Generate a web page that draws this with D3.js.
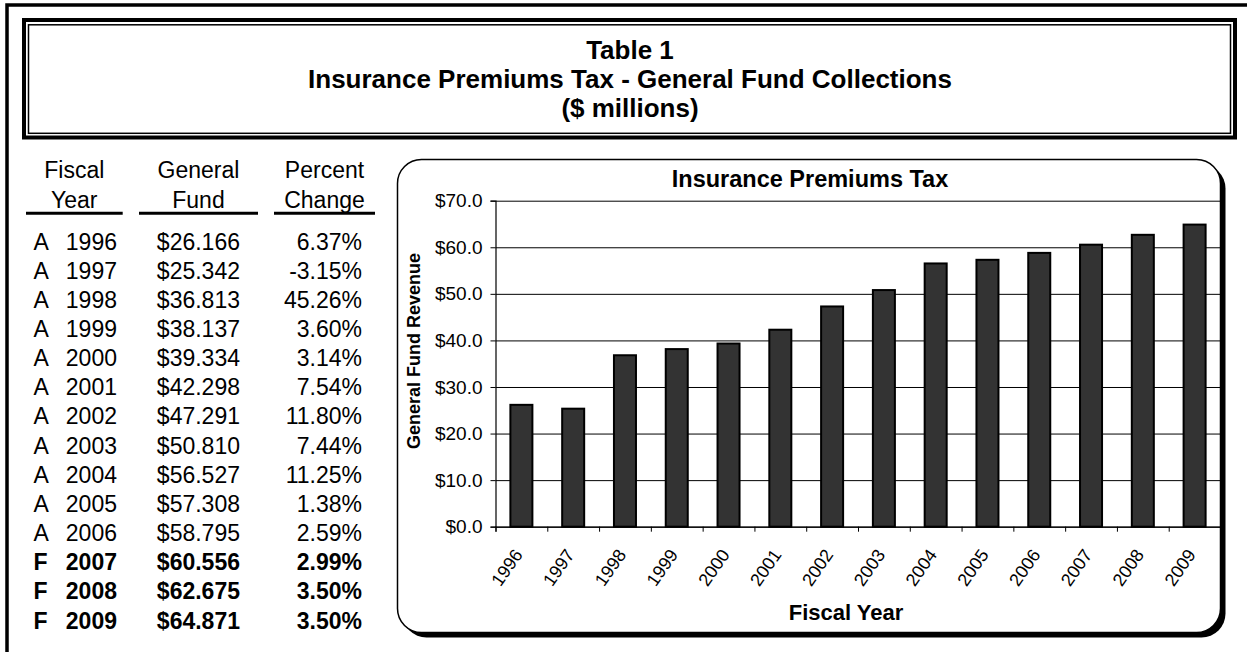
<!DOCTYPE html>
<html><head><meta charset="utf-8">
<script src="https://cdn.jsdelivr.net/npm/d3@7"></script>
<style>
html,body{margin:0;padding:0;background:#fff;}
svg{display:block;font-family:"Liberation Sans",Arial,Helvetica,sans-serif;}
</style></head>
<body>
<svg id="c" width="1247" height="652"></svg>
<script>
// ---- data ----
const years = ["1996","1997","1998","1999","2000","2001","2002","2003","2004","2005","2006","2007","2008","2009"];
const flags = ["A","A","A","A","A","A","A","A","A","A","A","F","F","F"];
const fund = [26.166,25.342,36.813,38.137,39.334,42.298,47.291,50.810,56.527,57.308,58.795,60.556,62.675,64.871];
const pctChange = ["6.37%","-3.15%","45.26%","3.60%","3.14%","7.54%","11.80%","7.44%","11.25%","1.38%","2.59%","2.99%","3.50%","3.50%"];
const yTicks = [0,10,20,30,40,50,60,70];
const titleLines = ["Table 1","Insurance Premiums Tax - General Fund Collections","($ millions)"];
const headers = [["Fiscal","Year"],["General","Fund"],["Percent","Change"]];
const chartTitle = "Insurance Premiums Tax";
const yLabel = "General Fund Revenue";
const xLabel = "Fiscal Year";

const svg = d3.select("#c");
svg.append("rect").attr("width",1247).attr("height",652).attr("fill","#fff");

// outer frame
svg.append("path").attr("d","M7,652 V5 H1247").attr("fill","none").attr("stroke","#000").attr("stroke-width",3.5);

// title box (double line)
svg.append("rect").attr("x",24).attr("y",20).attr("width",1211).attr("height",117.5)
  .attr("fill","none").attr("stroke","#000").attr("stroke-width",4);
svg.append("rect").attr("x",28.5).attr("y",24.8).attr("width",1202).attr("height",108.5)
  .attr("fill","none").attr("stroke","#000").attr("stroke-width",1.5);
svg.selectAll("text.ttl").data(titleLines).join("text").attr("class","ttl")
  .attr("x",630).attr("y",(d,i)=>59+i*29).attr("text-anchor","middle")
  .attr("font-size",26).attr("font-weight","bold").text(d=>d);

// table headers
const colCenters = [74.3,198.5,324.5];
const ulines = [[26,122.7],[139,258],[274,375]];
headers.forEach((h,i)=>{
  h.forEach((t,j)=>{
    svg.append("text").attr("x",colCenters[i]).attr("y",178+j*29.5).attr("text-anchor","middle")
      .attr("font-size",23).text(t);
  });
  svg.append("line").attr("x1",ulines[i][0]).attr("x2",ulines[i][1]).attr("y1",213.3).attr("y2",213.3)
    .attr("stroke","#000").attr("stroke-width",3);
});

// table rows
const rowY = d3.scaleLinear().domain([0,13]).range([249.5,628.5]);
const fmtFund = d3.format("$.3f");
const rows = svg.append("g").attr("font-size",23);
years.forEach((yr,i)=>{
  const g = rows.append("g").attr("font-weight",flags[i]==="F"?"bold":"normal");
  const y = rowY(i);
  g.append("text").attr("x",33.5).attr("y",y).text(flags[i]);
  g.append("text").attr("x",117).attr("y",y).attr("text-anchor","end").text(yr);
  g.append("text").attr("x",240).attr("y",y).attr("text-anchor","end").text(fmtFund(fund[i]));
  g.append("text").attr("x",362).attr("y",y).attr("text-anchor","end").text(pctChange[i]);
});

// chart box with shadow
const bx=397.5, by=159.5, bw=823, bh=473, br=24;
svg.append("rect").attr("x",bx+5).attr("y",by+5).attr("width",bw).attr("height",bh).attr("rx",br)
  .attr("fill","#000");
svg.append("rect").attr("x",bx).attr("y",by).attr("width",bw).attr("height",bh).attr("rx",br)
  .attr("fill","#fff").attr("stroke","#000").attr("stroke-width",1.5);

// plot
const L=495.5, R=1220.5, T=200.7, B=526.7;
const x = d3.scaleBand().domain(years).range([L,R]).paddingInner(0.575).paddingOuter(0.2875);
const y = d3.scaleLinear().domain([0,70]).range([B,T]);

// gridlines
svg.append("g").attr("transform",`translate(${L},0)`)
  .call(d3.axisLeft(y).tickValues(yTicks).tickSize(-(R-L)).tickFormat(""))
  .call(g=>g.select(".domain").remove())
  .call(g=>g.selectAll("line").attr("stroke","#000").attr("stroke-width",1));

// bars
svg.append("g").selectAll("rect").data(fund).join("rect")
  .attr("x",(d,i)=>x(years[i])).attr("width",x.bandwidth())
  .attr("y",d=>y(d)).attr("height",d=>B-y(d))
  .attr("fill","#333").attr("stroke","#000").attr("stroke-width",2);

// y axis
const ya = svg.append("g").attr("transform",`translate(${L},0)`)
  .call(d3.axisLeft(y).tickValues(yTicks).tickSize(5).tickPadding(8).tickFormat(d3.format("$.1f")));
ya.select(".domain").attr("stroke","#000").attr("stroke-width",1.2);
ya.selectAll("text").attr("font-size",19).attr("font-family","Liberation Sans, Arial, sans-serif").attr("fill","#000");

// x axis: boundary ticks
const step = x.step();
const xb = d3.scaleLinear().domain([0,years.length]).range([L,R]);
svg.append("g").attr("transform",`translate(0,${B})`)
  .call(d3.axisBottom(xb).ticks(years.length).tickValues(d3.range(0,years.length+1)).tickSize(5).tickFormat(""))
  .call(g=>g.select(".domain").attr("stroke","#000").attr("stroke-width",1.2))
  .call(g=>g.selectAll("line").attr("stroke","#000"));
// x labels
const xa = svg.append("g").attr("transform",`translate(0,${B})`)
  .call(d3.axisBottom(x).tickSize(0).tickPadding(0));
xa.select(".domain").remove();
xa.selectAll("text").attr("font-size",18).attr("font-family","Liberation Sans, Arial, sans-serif")
  .attr("fill","#000").attr("text-anchor","end").attr("dy",null).attr("y",null)
  .attr("transform","translate(2,28) rotate(-55)");

// titles
svg.append("text").attr("x",810).attr("y",187).attr("text-anchor","middle")
  .attr("font-size",23.5).attr("font-weight","bold").text(chartTitle);
svg.append("text").attr("transform","translate(420,351) rotate(-90)").attr("text-anchor","middle")
  .attr("font-size",18).attr("font-weight","bold").text(yLabel);
svg.append("text").attr("x",846).attr("y",620).attr("text-anchor","middle")
  .attr("font-size",22).attr("font-weight","bold").text(xLabel);
</script>
</body></html>
